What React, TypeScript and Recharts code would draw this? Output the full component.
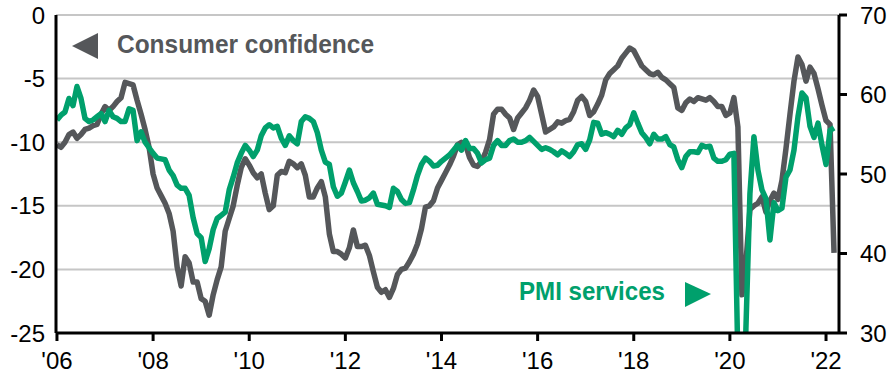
import React from 'react';
import { ComposedChart, Line, XAxis, YAxis, CartesianGrid } from 'recharts';

// Monthly data, Jan 2006 – Mar 2022
const startYear = 2006;

const consumerConfidence: number[] = [
  // 2006
  -10.2, -10.4, -10.0, -9.4, -9.2, -9.7, -9.4, -9.0, -8.9, -8.7, -8.6, -7.8,
  // 2007
  -7.2, -7.5, -7.2, -6.8, -6.5, -5.3, -5.4, -5.5, -6.7, -7.8, -9.0, -10.4,
  // 2008
  -12.5, -13.6, -14.2, -14.8, -15.6, -17.0, -19.8, -21.3, -19.0, -19.5, -21.0, -21.0,
  // 2009
  -22.3, -22.5, -23.6, -22.0, -20.8, -19.8, -17.0, -16.0, -15.0, -13.4, -12.0, -11.3,
  // 2010
  -11.8, -12.4, -12.8, -12.5, -14.0, -15.3, -15.0, -12.6, -12.3, -12.4, -11.5, -11.7,
  // 2011
  -12.0, -11.7, -12.6, -14.3, -14.3, -13.6, -13.1, -14.3, -17.2, -18.6, -18.6, -18.8,
  // 2012
  -19.1, -18.3, -16.9, -18.2, -18.2, -18.1, -18.9, -20.2, -21.4, -21.8, -21.6, -22.2,
  // 2013
  -21.5, -20.4, -20.0, -19.9, -19.4, -18.8, -18.0, -16.8, -15.1, -15.0, -14.6, -13.6,
  // 2014
  -13.0, -12.4, -11.8, -11.1, -10.2, -10.0, -10.2, -11.2, -11.8, -11.9, -11.5, -10.8,
  // 2015
  -9.8, -7.8, -7.4, -7.4, -7.8, -8.1, -9.0, -8.1, -7.7, -7.3, -6.7, -5.9,
  // 2016
  -6.4, -7.8, -9.2, -9.0, -8.8, -8.4, -8.5, -8.3, -8.2, -7.6, -6.7, -6.4,
  // 2017
  -6.8, -7.9, -7.6, -7.0, -6.3, -5.1, -4.6, -4.3, -4.0, -3.4, -3.0, -2.6,
  // 2018
  -2.8, -3.4, -4.0, -4.3, -4.6, -4.7, -4.5, -4.9, -5.1, -5.4, -5.7, -7.3,
  // 2019
  -7.5, -6.9, -6.6, -6.8, -6.5, -6.6, -6.7, -6.5, -6.8, -7.2, -7.2, -7.9,
  // 2020
  -7.7, -6.5, -8.8, -22.0, -19.5, -15.3, -15.0, -14.8, -14.3, -15.5, -14.6, -14.0,
  // 2021
  -14.5, -13.0, -10.5, -7.8, -5.2, -3.3, -3.9, -5.2, -4.1, -4.6, -5.8, -7.1,
  // 2022
  -8.3, -8.6, -18.7,
];

const pmiServices: number[] = [
  // 2006
  56.8, 57.4, 57.8, 59.5, 58.6, 61.0, 59.5, 57.0, 56.6, 56.8, 57.2, 57.6,
  // 2007
  56.6, 58.0, 57.2, 57.0, 56.6, 56.6, 58.2, 58.0, 54.2, 55.3, 54.0, 53.3,
  // 2008
  52.6, 52.0, 51.9, 51.8, 50.5, 49.8, 48.6, 48.2, 48.2, 47.3, 44.5, 42.5,
  // 2009
  42.0, 39.0, 40.6, 43.0, 44.4, 44.8, 45.2, 48.0, 49.6, 51.4, 52.6, 53.6,
  // 2010
  53.0, 52.2, 53.0, 54.8, 55.8, 56.2, 55.8, 56.0, 54.5, 53.6, 54.8, 54.2,
  // 2011
  53.8, 56.6, 57.2, 57.0, 56.6, 55.2, 53.0, 51.5, 51.2, 48.4, 47.2, 47.6,
  // 2012
  49.0, 50.5, 48.9, 47.8, 46.6, 46.7, 47.0, 47.6, 46.2, 46.1, 46.0, 45.8,
  // 2013
  48.2, 47.8, 46.8, 46.3, 46.4, 48.0, 49.8, 51.2, 52.0, 51.6, 51.0, 51.1,
  // 2014
  51.6, 52.0, 52.4, 53.0, 53.6, 53.0, 54.2, 53.2, 53.2, 52.6, 51.4, 51.8,
  // 2015
  52.0, 53.6, 54.2, 53.6, 53.6, 54.2, 54.4, 54.0, 54.0, 54.2, 54.6, 54.1,
  // 2016
  53.6, 53.1, 53.3, 53.1, 52.8, 52.4, 52.9, 52.6, 52.2, 52.8, 53.7, 53.8,
  // 2017
  53.1, 54.3, 56.5, 56.4, 55.0, 55.2, 55.0, 54.7, 55.5, 55.0, 55.8, 56.2,
  // 2018
  57.7, 56.4, 55.2, 54.6, 53.8, 55.0, 54.4, 54.4, 54.7, 53.7, 53.4, 51.8,
  // 2019
  50.8, 52.2, 52.8, 52.8, 52.7, 53.6, 53.4, 53.5, 52.0, 51.6, 51.6, 51.8,
  // 2020
  52.5, 52.6, 26.4, 12.0, 30.5, 47.5, 54.7, 50.5, 48.0, 46.9, 41.7, 46.4,
  // 2021
  45.4, 45.7, 49.6, 50.5, 53.0, 57.2, 60.2, 59.6, 56.0, 54.6, 56.4, 53.6,
  // 2022
  51.2, 55.5, 55.8,
];

const xTicks = [2006, 2008, 2010, 2012, 2014, 2016, 2018, 2020, 2022];
const leftTicks = [0, -5, -10, -15, -20, -25];
const rightTicks = [30, 40, 50, 60, 70];

const seriesNames = { cc: 'Consumer confidence', pmi: 'PMI services' };

const data = consumerConfidence.map((cc, i) => ({
  t: startYear + i / 12,
  cc,
  pmi: pmiServices[i],
}));

const GREY = '#55575a';
const GREEN = '#00a06c';
const FONT = '"Liberation Sans", Arial, Helvetica, sans-serif';

export default function App() {
  return (
    <div
      style={{
        position: 'absolute',
        left: 0,
        top: 0,
        width: 893,
        height: 380,
        background: '#fff',
        fontFamily: FONT,
      }}
    >
      <ComposedChart
        width={893}
        height={380}
        data={data}
        margin={{ top: 15, right: 4, bottom: 7, left: 6 }}
      >
        <CartesianGrid
          yAxisId="left"
          vertical={false}
          horizontal={true}
          stroke="#c6c6c6"
          strokeWidth={2}
        />
        <XAxis
          dataKey="t"
          type="number"
          domain={[2005.98, 2022.27]}
          allowDataOverflow
          ticks={xTicks}
          tickFormatter={(v: number) => "'" + String(Math.round(v)).slice(2)}
          height={40}
          tickSize={8}
          tickMargin={11}
          axisLine={{ stroke: '#000', strokeWidth: 3 }}
          tickLine={{ stroke: '#000', strokeWidth: 3 }}
          tick={{ fill: '#000', fontSize: 24, fontFamily: FONT }}
          interval={0}
        />
        <YAxis
          yAxisId="left"
          orientation="left"
          domain={[-25, 0]}
          allowDataOverflow
          ticks={leftTicks}
          width={50}
          tickSize={6}
          tickMargin={5}
          tickLine={false}
          axisLine={{ stroke: '#000', strokeWidth: 3 }}
          tick={{ fill: '#000', fontSize: 24, fontFamily: FONT }}
          interval={0}
        />
        <YAxis
          yAxisId="right"
          orientation="right"
          domain={[30, 70]}
          allowDataOverflow
          ticks={rightTicks}
          width={50}
          tickSize={8}
          tickMargin={13}
          axisLine={{ stroke: '#000', strokeWidth: 3 }}
          tickLine={{ stroke: '#000', strokeWidth: 3 }}
          tick={{ fill: '#000', fontSize: 24, fontFamily: FONT }}
          interval={0}
        />
        <Line
          yAxisId="left"
          dataKey="cc"
          name={seriesNames.cc}
          type="linear"
          stroke={GREY}
          strokeWidth={5.5}
          dot={false}
          activeDot={false}
          strokeLinejoin="round"
          isAnimationActive={false}
        />
        <Line
          yAxisId="right"
          dataKey="pmi"
          name={seriesNames.pmi}
          type="linear"
          stroke={GREEN}
          strokeWidth={5.5}
          dot={false}
          activeDot={false}
          strokeLinejoin="round"
          isAnimationActive={false}
        />
      </ComposedChart>
      <svg
        width={893}
        height={380}
        style={{ position: 'absolute', left: 0, top: 0, pointerEvents: 'none' }}
      >
        <polygon points="72,46 98,33 98,59" fill={GREY} />
        <text
          x={117}
          y={53}
          fill={GREY}
          fontSize={25}
          fontWeight="bold"
          fontFamily={FONT}
          textLength={257}
          lengthAdjust="spacingAndGlyphs"
        >
          {seriesNames.cc}
        </text>
        <text
          x={519}
          y={299.5}
          fill={GREEN}
          fontSize={25}
          fontWeight="bold"
          fontFamily={FONT}
          textLength={146}
          lengthAdjust="spacingAndGlyphs"
        >
          {seriesNames.pmi}
        </text>
        <polygon points="685,282 685,307 711,294" fill={GREEN} />
      </svg>
    </div>
  );
}
